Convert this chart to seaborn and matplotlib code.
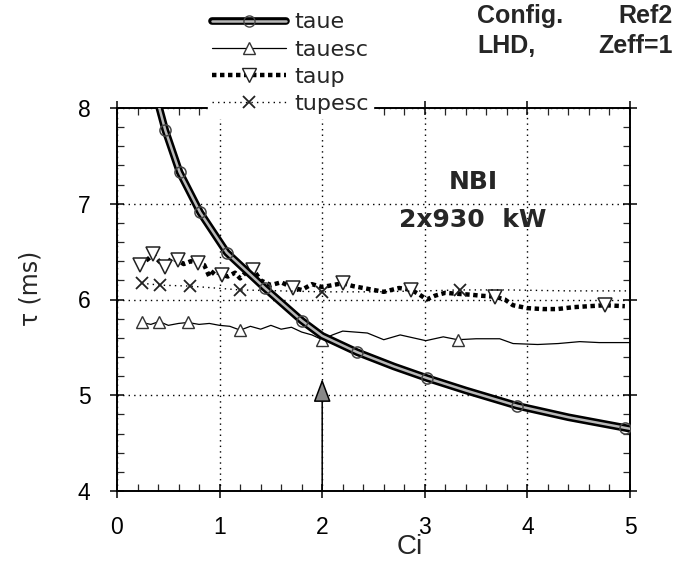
import matplotlib
matplotlib.use("Agg")
import matplotlib.pyplot as plt
import seaborn as sns
import numpy as np
import pandas as pd
from matplotlib.lines import Line2D
from matplotlib.ticker import MultipleLocator
from matplotlib.legend_handler import HandlerTuple

# ---------------- data ----------------
taue_x = [0.40, 0.47, 0.61, 0.81, 1.07, 1.44, 1.80, 2.00, 2.34, 2.70, 3.02, 3.40, 3.90, 4.40, 4.95, 5.00]
taue_y = [8.05, 7.77, 7.33, 6.91, 6.49, 6.12, 5.78, 5.62, 5.45, 5.30, 5.18, 5.05, 4.89, 4.77, 4.66, 4.65]
taue_marks = [1, 2, 3, 4, 5, 6, 8, 10, 12, 14]

tauesc_x = [0.24, 0.33, 0.41, 0.50, 0.60, 0.69, 0.80, 0.90, 1.00, 1.10, 1.20, 1.30, 1.40, 1.50,
            1.60, 1.70, 1.80, 1.90, 2.00, 2.10, 2.20, 2.44, 2.60, 2.76, 3.01, 3.18, 3.32, 3.50,
            3.73, 3.86, 4.10, 4.30, 4.51, 4.70, 5.00]
tauesc_y = [5.76, 5.74, 5.77, 5.73, 5.75, 5.76, 5.74, 5.75, 5.73, 5.72, 5.68, 5.72, 5.69, 5.73,
            5.69, 5.71, 5.66, 5.63, 5.58, 5.63, 5.67, 5.65, 5.58, 5.63, 5.57, 5.61, 5.58, 5.59,
            5.59, 5.54, 5.53, 5.54, 5.56, 5.55, 5.55]
tauesc_marks = [0, 2, 5, 10, 18, 26]

taup_x = [0.22, 0.30, 0.35, 0.41, 0.47, 0.53, 0.59, 0.65, 0.72, 0.79, 0.85, 0.90, 0.95, 1.02,
          1.08, 1.15, 1.20, 1.27, 1.33, 1.40, 1.50, 1.60, 1.72, 1.80, 1.90, 2.00, 2.10, 2.20,
          2.30, 2.45, 2.60, 2.75, 2.87, 2.95, 3.02, 3.10, 3.20, 3.31, 3.45, 3.54, 3.68, 3.78,
          3.86, 4.00, 4.15, 4.29, 4.45, 4.60, 4.76, 4.95]
taup_y = [6.36, 6.42, 6.47, 6.40, 6.34, 6.43, 6.41, 6.37, 6.40, 6.38, 6.36, 6.24, 6.30, 6.26,
          6.24, 6.28, 6.22, 6.30, 6.31, 6.20, 6.15, 6.18, 6.12, 6.10, 6.16, 6.13, 6.15, 6.17,
          6.14, 6.11, 6.08, 6.12, 6.10, 6.05, 6.00, 6.04, 6.07, 6.06, 6.05, 6.04, 6.03, 6.00,
          5.94, 5.91, 5.90, 5.90, 5.92, 5.93, 5.94, 5.93]
taup_marks = [0, 2, 4, 6, 9, 13, 18, 22, 27, 32, 40, 48]

tupesc_x = [0.24, 0.42, 0.71, 1.20, 1.60, 2.00, 2.50, 3.00, 3.34, 3.80, 4.40, 5.00]
tupesc_y = [6.17, 6.15, 6.14, 6.10, 6.09, 6.08, 6.08, 6.09, 6.10, 6.10, 6.09, 6.09]
tupesc_marks = [0, 1, 2, 3, 5, 8]

series_names = ["taue", "tauesc", "taup", "tupesc"]
x_ticks = [0, 1, 2, 3, 4, 5]
y_ticks = [4, 5, 6, 7, 8]
arrow_x = 2.0
arrow_tip = 5.17

# ---------------- style ----------------
sns.set_style("ticks")
plt.rcParams["font.family"] = ["Liberation Sans", "DejaVu Sans"]
plt.rcParams["axes.linewidth"] = 1.4

fig = plt.figure(figsize=(6.82, 5.62), dpi=100)
ax = fig.add_axes([117 / 682, 1 - 491 / 562, (630 - 117) / 682, (491 - 108) / 562])

# taue: thick double line (black outline, light core)
sns.lineplot(x=taue_x, y=taue_y, ax=ax, color="black", lw=5.5, sort=False,
             estimator=None, legend=False, zorder=4)
sns.lineplot(x=taue_x, y=taue_y, ax=ax, color="#b8b8b8", lw=1.8, sort=False,
             estimator=None, legend=False, marker="o", markevery=taue_marks,
             markersize=8, markerfacecolor="none", markeredgecolor="#444444",
             markeredgewidth=1.1, zorder=5)

# tauesc: thin solid line, open up-triangles
sns.lineplot(x=tauesc_x, y=tauesc_y, ax=ax, color="black", lw=0.9, sort=False,
             estimator=None, legend=False, marker="^", markevery=tauesc_marks,
             markersize=8.5, markerfacecolor="white", markeredgecolor="#333333",
             markeredgewidth=1.0, zorder=3)

# taup: thick dotted line, open down-triangles
sns.lineplot(x=taup_x, y=taup_y, ax=ax, color="black", lw=3.2, sort=False,
             estimator=None, legend=False, marker="v", markevery=taup_marks,
             markersize=9.5, markerfacecolor="white", markeredgecolor="#222222",
             markeredgewidth=1.1, zorder=3, dashes=False, linestyle=(0, (1.0, 0.8)))

# tupesc: thin dotted line, x markers
sns.lineplot(x=tupesc_x, y=tupesc_y, ax=ax, color="black", lw=1.0, sort=False,
             estimator=None, legend=False, marker="x", markevery=tupesc_marks,
             markersize=8.5, markeredgewidth=1.3, markeredgecolor="#222222",
             zorder=3, dashes=False, linestyle=(0, (1, 3)))

# arrow marking Ci = 2
ax.annotate("", xy=(arrow_x, arrow_tip), xytext=(arrow_x, 4.0),
            arrowprops=dict(arrowstyle="-|>,head_length=0.72,head_width=0.27",
                            mutation_scale=20, fc="#888888", ec="black", lw=1.1,
                            shrinkA=0, shrinkB=0),
            zorder=6)

# axes formatting
ax.set_xlim(0, 5)
ax.set_ylim(4, 8)
ax.set_xticks(x_ticks)
ax.set_yticks(y_ticks)
ax.set_xticklabels([str(t) for t in x_ticks])
ax.set_yticklabels([str(t) for t in y_ticks])
ax.xaxis.set_minor_locator(MultipleLocator(0.2))
ax.yaxis.set_minor_locator(MultipleLocator(0.2))
ax.tick_params(which="major", direction="inout", length=10, width=1.1,
               top=True, right=True, labelsize=16.5, colors="black")
ax.tick_params(which="minor", direction="in", length=5, width=0.9,
               top=True, right=True)
ax.tick_params(axis="x", which="major", pad=13)
ax.tick_params(axis="y", which="major", pad=14)
ax.grid(True, which="major", color="black", linestyle=(0, (1, 3)), linewidth=1.0)
for s in ax.spines.values():
    s.set_color("black")

ax.set_xlabel("Ci", fontsize=20)
ax.xaxis.set_label_coords(0.571, -0.112)
ax.set_ylabel("τ (ms)", fontsize=17, family=["DejaVu Sans"])
ax.yaxis.set_label_coords(-0.146, 0.53)

# annotation texts
ax.text(3.47, 7.23, "NBI", fontsize=18, fontweight="bold", ha="center", va="center",
        family=["DejaVu Sans"])
ax.text(3.47, 6.83, "2x930  kW", fontsize=18, fontweight="bold", ha="center", va="center",
        family=["DejaVu Sans"])
fig.text(477 / 682, 1 - 16 / 562, "Config.", fontsize=18, fontweight="bold",
         ha="left", va="center")
fig.text(673 / 682, 1 - 16 / 562, "Ref2", fontsize=18, fontweight="bold",
         ha="right", va="center")
fig.text(477 / 682, 1 - 46 / 562, "LHD,", fontsize=18, fontweight="bold",
         ha="left", va="center")
fig.text(673 / 682, 1 - 46 / 562, "Zeff=1", fontsize=18, fontweight="bold",
         ha="right", va="center")

# legend
h_taue = (Line2D([], [], color="black", lw=5.5),
          Line2D([], [], color="#b8b8b8", lw=1.8, marker="o", markersize=8,
                 markerfacecolor="none", markeredgecolor="#444444"))
h_tauesc = Line2D([], [], color="black", lw=0.9, marker="^", markersize=8.5,
                  markerfacecolor="white", markeredgecolor="#333333")
h_taup = Line2D([], [], color="black", lw=3.2, linestyle=(0, (1.0, 0.8)), marker="v",
                markersize=9.5, markerfacecolor="white", markeredgecolor="#222222")
h_tupesc = Line2D([], [], color="black", lw=1.0, linestyle=(0, (1, 3)), marker="x",
                  markersize=8.5, markeredgewidth=1.3, markeredgecolor="#222222")
leg = fig.legend([h_taue, h_tauesc, h_taup, h_tupesc], series_names,
                 handler_map={tuple: HandlerTuple(ndivide=1, pad=0)},
                 loc="upper left", bbox_to_anchor=(208 / 682, 1 - 8 / 562),
                 prop={"family": ["DejaVu Sans"], "size": 16},
                 frameon=True, fancybox=False, framealpha=1,
                 edgecolor="white", facecolor="white", borderpad=0.2,
                 borderaxespad=0, handlelength=3.3, handletextpad=0.37,
                 labelspacing=0.32, numpoints=1)
leg.set_zorder(10)

fig.savefig("out.png", dpi=100)
